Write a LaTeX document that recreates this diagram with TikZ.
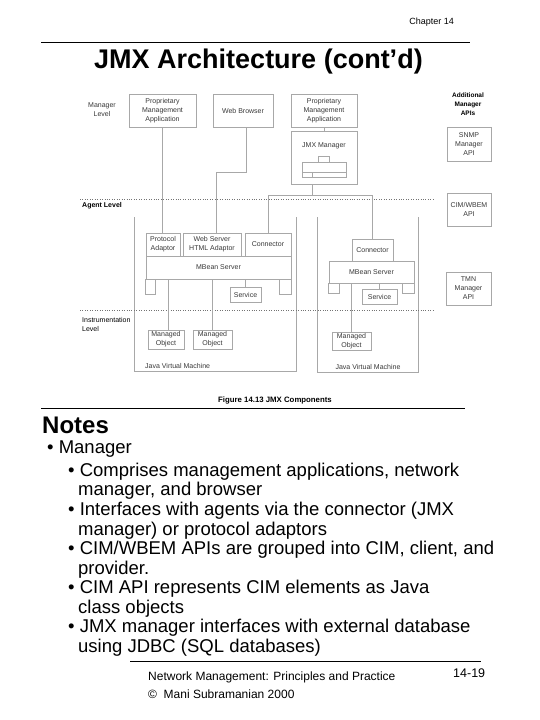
\documentclass[tikz,border=0pt]{standalone}
\usepackage{fontspec}
\setmainfont{Liberation Sans}
\definecolor{boxgray}{gray}{0.66}
\definecolor{txtgray}{gray}{0.22}
\tikzset{
  box/.style={draw=boxgray, line width=0.6pt, inner sep=0.5pt, align=center, text=txtgray, font=\fontsize{7}{9}\selectfont},
  wire/.style={draw=boxgray, line width=0.6pt},
  level/.style={draw=black!55, dotted, line width=0.45pt},
  lbl/.style={text=txtgray, inner sep=0pt, font=\fontsize{7}{9}\selectfont},
  note/.style={anchor=base west, inner sep=0pt, font=\fontsize{18.5}{20}\selectfont},
}
\begin{document}
\begin{tikzpicture}[x=1pt,y=-1pt]
\useasboundingbox (0,0) rectangle (540,720);
% header
\node[anchor=east, inner sep=0pt, font=\fontsize{9}{11}\selectfont] (chap) at (454,22) {Chapter 14};
\draw[line width=0.8pt] (41,42) -- (470,42);
\node[inner sep=0pt, font=\fontsize{27}{30}\selectfont\bfseries] (title) at (258.5,62) {JMX Architecture (cont’d)};
% manager level
\node[lbl, align=center] (mgrlvl) at (102,110) {Manager\\Level};
\node[box, minimum width=67, minimum height=33] (ppa1) at (162.5,110.5) {Proprietary\\Management\\Application};
\node[box, minimum width=60, minimum height=33] (wb) at (243,110.5) {Web Browser};
\node[box, minimum width=66, minimum height=33] (ppa2) at (324,110.5) {Proprietary\\Management\\Application};
\node[box, minimum width=66, minimum height=53] (jmxm) at (324,157.5) {};
\node[lbl] (jmxt) at (324,146) {JMX Manager};
\draw[wire] (302,162) rectangle (346,177) (318,156) rectangle (329,162)
  (302,172) -- (346,172) (312,172) -- (312,177);
\node[lbl, align=center, text=black, font=\fontsize{6.5}{9}\selectfont\bfseries] (addapi) at (468,104) {Additional\\Manager\\APIs};
\node[box, minimum width=44, minimum height=34] (snmp) at (469,144) {SNMP\\Manager\\API};
% agent level
\draw[level] (80,199) -- (435,199);
\node[anchor=west, inner sep=0pt, font=\fontsize{7}{9}\selectfont\bfseries] (agtlvl) at (82,206) {Agent Level};
\node[box, minimum width=44, minimum height=33] (cim) at (469,209.5) {CIM/WBEM\\API};
\node[box, minimum width=45, minimum height=33] (tmn) at (468.5,288.5) {TMN\\Manager\\API};
% left agent
\draw[wire] (134,217) |- (296,371) -- (296,217);
\node[box, minimum width=34, minimum height=23] (pa) at (163,244.5) {Protocol\\Adaptor};
\node[box, minimum width=58, minimum height=23] (wsa) at (212,244.5) {Web Server\\HTML Adaptor};
\node[box, minimum width=46, minimum height=23] (conl) at (268,244.5) {Connector};
\node[box, minimum width=145, minimum height=23] (mbl) at (218.5,267.5) {MBean Server};
\draw[wire] (mbl.south west) rectangle ++(10,15) (mbl.south east) rectangle ++(-12,15);
\node[box, minimum width=31, minimum height=15] (svcl) at (245.5,294.5) {Service};
% right agent
\draw[wire] (317,217) |- (418,372) -- (418,217);
\node[box, minimum width=41, minimum height=22] (conr) at (372.5,250) {Connector};
\node[box, minimum width=85, minimum height=22] (mbr) at (371.5,272) {MBean Server};
\draw[wire] (mbr.south west) rectangle ++(11,10) (mbr.south east) rectangle ++(-12,10);
\node[box, minimum width=35, minimum height=15] (svcr) at (379.5,296.5) {Service};
% instrumentation level
\draw[level] (80,310) -- (435,310);
\node[lbl, anchor=west, align=left, text=black] (inslvl) at (82,324.5) {Instrumentation\\Level};
\node[box, minimum width=36, minimum height=19] (mo1) at (166,339.5) {Managed\\Object};
\node[box, minimum width=39, minimum height=19] (mo2) at (212.5,339.5) {Managed\\Object};
\node[box, minimum width=39, minimum height=18] (mor) at (351.5,341) {Managed\\Object};
\node[lbl, anchor=west] (jvml) at (145,366) {Java Virtual Machine};
\node[lbl] (jvmr) at (368,367) {Java Virtual Machine};
% connectors
\draw[wire] (ppa1.south) -- (ppa1.south |- pa.north);
\draw[wire] ([xshift=3pt]wb.south) |- ([xshift=4pt]wsa.north |- 0,172) -- ([xshift=4pt]wsa.north);
\draw[wire] (ppa2.south) -- (jmxm.north);
\draw[wire] ([xshift=-12pt]jmxm.south) -- ++(0,11) coordinate (fork);
\draw[wire] (conl.north) |- (fork) -| (conr.north);
\draw[wire] (svcl.north) -- (svcl.north |- mbl.south);
\draw[wire] ([xshift=2pt]mo1.north) -- ([xshift=2pt]mo1.north |- mbl.south);
\draw[wire] (mo2.north) -- (mo2.north |- mbl.south);
\draw[wire] (svcr.north) -- (svcr.north |- mbr.south);
\draw[wire] (mor.north) -- (mor.north |- mbr.south);
% caption
\node[inner sep=0pt, font=\fontsize{7.8}{9}\selectfont\bfseries] (fig) at (275,400) {Figure 14.13 JMX Components};
\draw[line width=0.8pt] (41,408) -- (465,408);
% notes
\node[anchor=base west, inner sep=0pt, font=\fontsize{24}{26}\selectfont\bfseries] (notes) at (42,433) {Notes};
\node[note] (n1) at (47,453) {• Manager};
\node[note] (n2) at (68,476) {• Comprises management applications, network};
\node[note] (n3) at (78,495.5) {manager, and browser};
\node[note] (n4) at (68,515) {• Interfaces with agents via the connector (JMX};
\node[note] (n5) at (78,535) {manager) or protocol adaptors};
\node[note] (n6) at (68,554.5) {• CIM/WBEM APIs are grouped into CIM, client, and};
\node[note] (n7) at (78,574) {provider.};
\node[note] (n8) at (68,593.5) {• CIM API represents CIM elements as Java};
\node[note] (n9) at (78,613) {class objects};
\node[note] (n10) at (68,632.5) {• JMX manager interfaces with external database};
\node[note] (n11) at (78,652) {using JDBC (SQL databases)};
% footer
\draw[line width=0.8pt] (130,661) -- (481,661);
\node[anchor=west, inner sep=0pt, font=\fontsize{12}{14}\selectfont] (ft1) at (148,677) {Network Management: Principles and Practice};
\node[anchor=west, inner sep=0pt, font=\fontsize{12}{14}\selectfont] (ft2) at (148,694) {©\ \ Mani Subramanian 2000};
\node[anchor=west, inner sep=0pt, font=\fontsize{12.5}{14}\selectfont] (pg) at (453,673) {14-19};
\end{tikzpicture}
\end{document}
